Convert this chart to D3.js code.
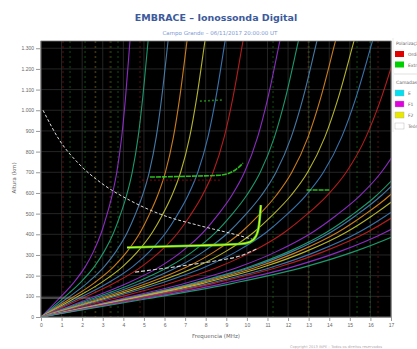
<!DOCTYPE html>
<html>
<head>
<meta charset="utf-8">
<script src="https://cdn.jsdelivr.net/npm/d3@7"></script>
<style>
    body { margin: 0; background: #fff; font-family: "DejaVu Sans", sans-serif; }
    .tick text { fill: #666; font-size: 5px; }
    .tick line { stroke: #999; }
    .domain { stroke: #999; }
</style>
</head>
<body>
<div id="chart"></div>
<script>

// axis ticks
var xTicks = [0, 1, 2, 3, 4, 5, 6, 7, 8, 9, 10, 11, 12, 13, 14, 15, 16, 17];
var yTicks = [0, 100, 200, 300, 400, 500, 600, 700, 800, 900, 1000, 1100, 1200, 1300];

// shape of the background curves (read from the first purple one), u = f / fTop
var profileU = [0, 0.2, 0.363, 0.5, 0.588, 0.68, 0.738, 0.8, 0.852, 0.907, 0.95, 1, 1.03];
var profileH = [0, 88, 164, 245, 315, 410, 490, 590, 700, 870, 1060, 1334, 1500];

// frequency (MHz) where each curve reaches the top of the plot
var curveTop = [4.32, 5.2, 6.17, 7.09, 7.96, 8.94, 9.81, 11.6, 12.5, 13.4, 14.3, 15.2, 16.1,
                17.4, 19.4, 20.4, 20.7, 21.2, 21.8, 22.7, 23.3, 24.6, 25.8];
var curveColor = ["#9b30d8", "#1fa878", "#4a86b8", "#e08a1e", "#c8c832", "#3f7fc0", "#c82020",
                  "#9b30d8", "#1fa878", "#4a86b8", "#e08a1e", "#c8c832", "#3f7fc0", "#c82020",
                  "#9b30d8", "#1fa878", "#4a86b8", "#e08a1e", "#c8c832", "#3f7fc0", "#c82020",
                  "#9b30d8", "#1fa878"];

// interference streaks (MHz)
var noiseFreq = [1.07, 1.41, 2.14, 2.62, 2.66, 3.35, 3.4, 3.74, 4.81, 11.27, 12.97, 13.02, 15.35, 15.98, 16.37];
var noiseColor = ["#c01818", "#18a018", "#18a018", "#c01818", "#18a018", "#c01818", "#18a018", "#18a018",
                  "#c01818", "#18a018", "#c01818", "#18a018", "#18a018", "#18a018", "#c01818"];

// echo traces [freq MHz, height km]
var f2Trace = [[4.18, 336], [7.72, 346], [9.66, 353], [10.15, 363], [10.44, 391], [10.59, 445], [10.68, 541]];
var xTrace = [[5.29, 677], [7.24, 681], [8.69, 686], [9.42, 710], [9.81, 744]];
var xTraceB = [[12.9, 614], [14.0, 614]];
var xTraceC = [[7.72, 1044], [8.84, 1050]];
var oTrace = [[4.9, 662], [8.7, 662]];
var theoryCurve = [[0.1, 1000], [0.9, 855], [1.9, 735], [2.9, 650], [4.3, 565], [5.8, 497],
                   [7.7, 442], [9.4, 400], [10.4, 372]];
var lowTrace = [[4.57, 217], [6.75, 246], [8.69, 275], [9.66, 295], [10.54, 333]];
var eTrace = [[0, 92], [2.4, 92]];

var polLabels = ["Ordinária", "Extraordinária"];
var polColors = ["#e00000", "#00d000"];
var layerLabels = ["E", "F1", "F2", "Teórica"];
var layerColors = ["#00e0f0", "#e000e0", "#e8e800", "#ffffff"];

var margin = { top: 41, right: 26, bottom: 32, left: 41 };
var width = 417 - margin.left - margin.right;
var height = 349 - margin.top - margin.bottom;

var svg = d3.select("#chart").append("svg")
    .attr("width", 417)
    .attr("height", 349);

var g = svg.append("g")
    .attr("transform", "translate(" + margin.left + "," + margin.top + ")");

var x = d3.scaleLinear().domain([0, 17]).range([0, width]);
var y = d3.scaleLinear().domain([0, 1335]).range([height, 0]);

var ptBR = d3.formatLocale({ decimal: ",", thousands: ".", grouping: [3], currency: ["R$", ""] });

// titles
svg.append("text")
    .attr("x", 216).attr("y", 21)
    .attr("text-anchor", "middle")
    .attr("font-size", 9.5).attr("font-weight", "bold")
    .attr("fill", "#3d5a9c")
    .text("EMBRACE – Ionossonda Digital");
svg.append("text")
    .attr("x", 220).attr("y", 34.5)
    .attr("text-anchor", "middle")
    .attr("font-size", 5.5)
    .attr("fill", "#7d9ad6")
    .text("Campo Grande – 06/11/2017 20:00:00 UT");

// plot background
g.append("rect")
    .attr("width", width).attr("height", height)
    .attr("fill", "#000");

g.append("clipPath").attr("id", "clip")
    .append("rect").attr("width", width).attr("height", height);

// grid
g.selectAll(".vgrid").data(xTicks).enter().append("line")
    .attr("class", "vgrid")
    .attr("x1", function(d) { return x(d); }).attr("x2", function(d) { return x(d); })
    .attr("y1", 0).attr("y2", height)
    .attr("stroke", "#2e2e2e").attr("stroke-width", 0.8);
g.selectAll(".hgrid").data(yTicks).enter().append("line")
    .attr("class", "hgrid")
    .attr("y1", function(d) { return y(d); }).attr("y2", function(d) { return y(d); })
    .attr("x1", 0).attr("x2", width)
    .attr("stroke", "#2e2e2e").attr("stroke-width", 0.8);

var plot = g.append("g").attr("clip-path", "url(#clip)");

// interference streaks
plot.selectAll(".noise").data(noiseFreq).enter().append("line")
    .attr("class", "noise")
    .attr("x1", function(d) { return x(d); }).attr("x2", function(d) { return x(d); })
    .attr("y1", 0).attr("y2", height)
    .attr("stroke", function(d, i) { return noiseColor[i]; })
    .attr("stroke-width", 1)
    .attr("stroke-dasharray", "2,3")
    .attr("opacity", 0.5);

var line = d3.line()
    .x(function(d) { return x(d[0]); })
    .y(function(d) { return y(d[1]); })
    .curve(d3.curveMonotoneX);

// background curve family
plot.selectAll(".curve").data(curveTop).enter().append("path")
    .attr("class", "curve")
    .attr("d", function(t) {
        return line(profileU.map(function(u, i) { return [u * t, profileH[i]]; }));
    })
    .attr("fill", "none")
    .attr("stroke", function(d, i) { return curveColor[i]; })
    .attr("stroke-width", 1.1)
    .attr("opacity", 0.9);

// echoes
plot.append("path").attr("d", line(eTrace))
    .attr("fill", "none").attr("stroke", "#8a8a8a").attr("stroke-width", 1.2);
plot.append("path").attr("d", line(theoryCurve))
    .attr("fill", "none").attr("stroke", "#dddddd").attr("stroke-width", 1)
    .attr("stroke-dasharray", "3,2");
plot.append("path").attr("d", line(lowTrace))
    .attr("fill", "none").attr("stroke", "#d8d8d8").attr("stroke-width", 1.1)
    .attr("stroke-dasharray", "4,2");
plot.append("path").attr("d", line(oTrace))
    .attr("fill", "none").attr("stroke", "#b01010").attr("stroke-width", 1)
    .attr("stroke-dasharray", "2,2").attr("opacity", 0.7);
[xTrace, xTraceB, xTraceC].forEach(function(tr, i) {
    plot.append("path").attr("d", line(tr))
        .attr("fill", "none").attr("stroke", "#30d020").attr("stroke-width", 1.6)
        .attr("stroke-dasharray", i === 2 ? "2,2" : "5,1")
        .attr("opacity", i === 2 ? 0.6 : 0.9);
});
plot.append("path").attr("d", line(f2Trace))
    .attr("fill", "none").attr("stroke", "#30d020").attr("stroke-width", 2.6);
plot.append("path").attr("d", line(f2Trace))
    .attr("fill", "none").attr("stroke", "#f0f020").attr("stroke-width", 1.1);

// frame
g.append("rect")
    .attr("width", width).attr("height", height)
    .attr("fill", "none").attr("stroke", "#777").attr("stroke-width", 0.8);

// axes
var xAxis = g.append("g")
    .attr("transform", "translate(0," + height + ")")
    .call(d3.axisBottom(x).tickValues(xTicks).tickSize(4).tickPadding(2));
var yAxis = g.append("g")
    .call(d3.axisLeft(y).tickValues(yTicks).tickSize(5).tickPadding(2).tickFormat(ptBR.format(",")));
xAxis.select(".domain").remove();
yAxis.select(".domain").remove();

svg.append("text")
    .attr("transform", "translate(16," + 178 + ") rotate(-90)")
    .attr("text-anchor", "middle")
    .attr("font-size", 5.5).attr("fill", "#666")
    .text("Altura (km)");
svg.append("text")
    .attr("x", 216).attr("y", 338)
    .attr("text-anchor", "middle")
    .attr("font-size", 5.5).attr("fill", "#666")
    .text("Frequencia (MHz)");

svg.append("text")
    .attr("x", 290).attr("y", 347.5)
    .attr("font-size", 3.6).attr("fill", "#aaa")
    .text("Copyright 2013 INPE – Todos os direitos reservados");

// legend (cut by the window edge, as in the original)
var leg = svg.append("g").attr("transform", "translate(394,0)");
leg.append("text").attr("x", 2).attr("y", 45)
    .attr("font-size", 4.5).attr("fill", "#666").text("Polarização");
leg.selectAll(".pol").data(polLabels).enter().append("rect")
    .attr("x", 1).attr("y", function(d, i) { return 51 + i * 10.5; })
    .attr("width", 9).attr("height", 6)
    .attr("fill", function(d, i) { return polColors[i]; });
leg.selectAll(".polt").data(polLabels).enter().append("text")
    .attr("x", 14).attr("y", function(d, i) { return 56 + i * 10.5; })
    .attr("font-size", 4.5).attr("fill", "#666")
    .text(function(d) { return d; });
leg.append("line").attr("x1", 0).attr("x2", 30).attr("y1", 74).attr("y2", 74)
    .attr("stroke", "#ccc").attr("stroke-width", 0.6);
leg.append("text").attr("x", 2).attr("y", 84)
    .attr("font-size", 4.5).attr("fill", "#666").text("Camadas");
leg.selectAll(".lay").data(layerLabels).enter().append("rect")
    .attr("x", 1).attr("y", function(d, i) { return 90 + i * 11; })
    .attr("width", 9).attr("height", 6)
    .attr("fill", function(d, i) { return layerColors[i]; })
    .attr("stroke", "#aaa").attr("stroke-width", 0.4);
leg.selectAll(".layt").data(layerLabels).enter().append("text")
    .attr("x", 14).attr("y", function(d, i) { return 95 + i * 11; })
    .attr("font-size", 4.5).attr("fill", "#666")
    .text(function(d) { return d; });
leg.append("line").attr("x1", -1).attr("x2", -1).attr("y1", 38).attr("y2", 132)
    .attr("stroke", "#ddd").attr("stroke-width", 0.6);

</script>
</body>
</html>
